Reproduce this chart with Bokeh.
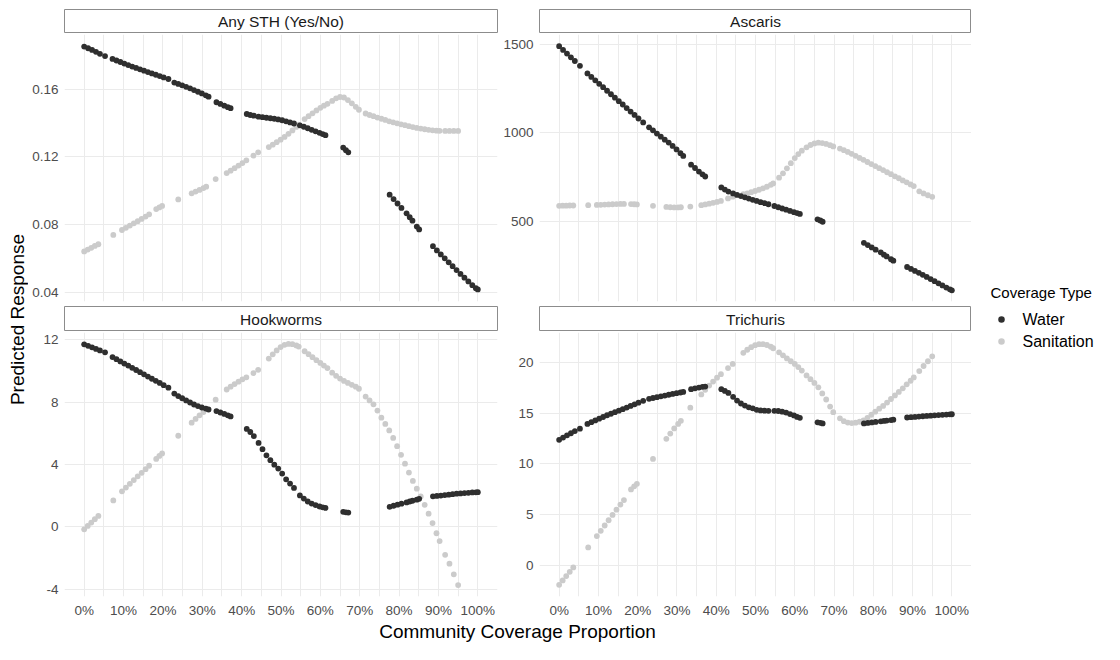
import math
from bokeh.plotting import figure
from bokeh.layouts import row, column
from bokeh.models import Range1d, FixedTicker
from bokeh.core.properties import value
from bokeh.embed import file_html
from bokeh.resources import INLINE

# ---------------- data ----------------
panel_titles = ["Any STH (Yes/No)", "Ascaris", "Hookworms", "Trichuris"]
legend_title = "Coverage Type"
series_names = ["Water", "Sanitation"]
x_title = "Community Coverage Proportion"
y_title = "Predicted Response"

x_ticks = [0, 10, 20, 30, 40, 50, 60, 70, 80, 90, 100]
x_tick_labels = ["0%", "10%", "20%", "30%", "40%", "50%", "60%", "70%", "80%", "90%", "100%"]
x_minor_ticks = [5, 15, 25, 35, 45, 55, 65, 75, 85, 95]

y_ticks_any = [0.04, 0.08, 0.12, 0.16]
y_labels_any = ["0.04", "0.08", "0.12", "0.16"]
y_ticks_ascaris = [500, 1000, 1500]
y_labels_ascaris = ["500", "1000", "1500"]
y_ticks_hook = [-4, 0, 4, 8, 12]
y_labels_hook = ["-4", "0", "4", "8", "12"]
y_ticks_trich = [0, 5, 10, 15, 20]
y_labels_trich = ["0", "5", "10", "15", "20"]

# community coverage (%) at which predictions are shown
water_x = [0, 1, 2, 3, 4, 5.3,
           7.2, 8.2, 9.2, 10.2, 11.2, 12.2, 13.2, 14.2, 15.2, 16.2, 17.2, 18.2, 19.2, 20.2, 21.4,
           22.9, 23.9, 24.9, 25.9, 26.9, 27.9, 28.9, 29.9, 30.9, 31.6,
           33.6, 34.6, 35.6, 36.5, 37.2,
           41.3, 42.2, 43.1, 44.3, 45.3, 46.3, 47.3, 48.3, 49.3, 50.3, 51.3, 52.3, 53.3,
           54.8, 55.8, 56.8, 57.8, 58.8, 59.8, 60.6, 61.3,
           65.8, 66.5, 67.1,
           77.6, 78.6, 79.6, 80.6, 81.9, 82.7, 83.4, 84.5, 85.1,
           88.6, 89.6, 90.6, 91.6, 92.6, 93.6, 94.6, 95.6, 96.6, 97.6, 98.6, 99.5, 100]

sanitation_x = [0, 0.9, 1.8, 2.7, 3.6,
                7.4,
                9.6, 10.6, 11.6, 12.6, 13.6, 14.6, 15.6, 16.5,
                18.3, 19.1, 19.8,
                23.9,
                27.3, 28.3, 29.3, 30.3, 31.0,
                33.4,
                36.2, 37.2, 38.2, 39.2, 40.2, 41.2, 43.0, 44.2,
                46.9, 47.9, 48.9, 49.9, 50.9, 51.9, 52.9, 53.9, 54.5,
                56.0, 57.0, 58.0, 59.0, 60.0, 60.9, 61.8,
                63.0, 64.0, 65.0, 66.0, 67.0, 68.0, 69.0, 69.8,
                71.5, 72.5, 73.5, 74.5, 75.5, 76.5, 77.5, 78.5, 79.5, 80.5,
                81.5, 82.5, 83.5, 84.5, 85.5, 86.5, 87.5, 88.5, 89.5, 90.3,
                91.7, 92.8, 93.9, 95.0]

water_any = [0.1850, 0.1840, 0.1830, 0.1819, 0.1807, 0.1794,
             0.1777, 0.1768, 0.1759, 0.1750, 0.1741, 0.1732, 0.1724, 0.1716, 0.1708, 0.1700, 0.1692, 0.1684, 0.1676, 0.1668, 0.1659,
             0.1638, 0.1630, 0.1622, 0.1613, 0.1604, 0.1594, 0.1584, 0.1574, 0.1563, 0.1555,
             0.1522, 0.1512, 0.1502, 0.1493, 0.1487,
             0.1453, 0.1447, 0.1443, 0.1437, 0.1434, 0.1431, 0.1428, 0.1425, 0.1421, 0.1416, 0.1410, 0.1403, 0.1397,
             0.1386, 0.1378, 0.1369, 0.1360, 0.1351, 0.1342, 0.1335, 0.1328,
             0.1255, 0.1240, 0.1227,
             0.0978, 0.0952, 0.0926, 0.0900, 0.0868, 0.0845, 0.0825, 0.0790, 0.0773,
             0.0675, 0.0650, 0.0626, 0.0603, 0.0580, 0.0557, 0.0534, 0.0511, 0.0489, 0.0467, 0.0445, 0.0427, 0.0420]

sanitation_any = [0.0644, 0.0655, 0.0665, 0.0676, 0.0686,
                  0.0741,
                  0.0770, 0.0783, 0.0796, 0.0809, 0.0822, 0.0835, 0.0849, 0.0862,
                  0.0893, 0.0903, 0.0912,
                  0.0950,
                  0.0986, 0.0996, 0.1006, 0.1017, 0.1025,
                  0.1070,
                  0.1105, 0.1119, 0.1134, 0.1149, 0.1164, 0.1180, 0.1208, 0.1227,
                  0.1258, 0.1272, 0.1287, 0.1302, 0.1318, 0.1336, 0.1356, 0.1377, 0.1390,
                  0.1423, 0.1440, 0.1457, 0.1474, 0.1489, 0.1502, 0.1513,
                  0.1530, 0.1545, 0.1553, 0.1550, 0.1535, 0.1516, 0.1495, 0.1478,
                  0.1456, 0.1447, 0.1440, 0.1432, 0.1425, 0.1418, 0.1410, 0.1404, 0.1398, 0.1392,
                  0.1387, 0.1381, 0.1376, 0.1371, 0.1367, 0.1363, 0.1360, 0.1357, 0.1355, 0.1354,
                  0.1353, 0.1353, 0.1353, 0.1353]

water_ascaris = [1489, 1468, 1447, 1426, 1405, 1378,
                 1335, 1315, 1296, 1276, 1257, 1237, 1217, 1198, 1178, 1159, 1139, 1119, 1100, 1080, 1058,
                 1030, 1013, 995, 977, 960, 944, 925, 905, 884, 868,
                 819, 800, 780, 764, 752,
                 690, 678, 667, 656, 648, 641, 634, 627, 620, 614, 607, 601, 595,
                 585, 578, 571, 564, 557, 550, 545, 540,
                 510, 503, 496,
                 377, 364, 351, 338, 323, 310, 300, 284, 276,
                 240, 229, 218, 207, 196, 184, 172, 160, 148, 136, 124, 114, 108]

sanitation_ascaris = [586, 587, 587, 588, 588,
                      590,
                      591, 592, 593, 594, 595, 596, 597, 597,
                      596, 595, 594,
                      586,
                      580, 578, 577, 577, 578,
                      582,
                      590, 594, 598, 603, 608, 614, 628, 638,
                      652, 657, 663, 670, 677, 685, 694, 705, 713,
                      745, 770, 798, 827, 856, 879, 898,
                      917, 930, 939, 943, 941, 936, 929, 922,
                      910, 901, 891, 880, 869, 857, 846, 834, 822, 811,
                      799, 788, 776, 765, 753, 742, 730, 719, 707, 698,
                      668, 656, 646, 637]

water_hook = [11.69, 11.60, 11.50, 11.40, 11.30, 11.18,
              10.88, 10.74, 10.60, 10.46, 10.33, 10.19, 10.05, 9.91, 9.77, 9.63, 9.49, 9.36, 9.22, 9.08, 8.92,
              8.54, 8.38, 8.24, 8.10, 7.97, 7.84, 7.74, 7.65, 7.58, 7.52,
              7.42, 7.33, 7.24, 7.15, 7.08,
              6.28, 6.08, 5.82, 5.38, 4.98, 4.59, 4.28, 3.99, 3.74, 3.42, 3.05, 2.78, 2.50,
              2.02, 1.82, 1.63, 1.50, 1.40, 1.31, 1.26, 1.22,
              0.97, 0.94, 0.92,
              1.29, 1.36, 1.43, 1.49, 1.57, 1.63, 1.68, 1.75, 1.80,
              1.96, 1.99, 2.01, 2.04, 2.07, 2.10, 2.13, 2.15, 2.17, 2.19, 2.21, 2.22, 2.23]

sanitation_hook = [-0.15, 0.07, 0.28, 0.50, 0.71,
                   1.70,
                   2.28, 2.52, 2.76, 3.00, 3.24, 3.47, 3.70, 3.92,
                   4.36, 4.55, 4.71,
                   5.84,
                   6.68, 6.92, 7.15, 7.36, 7.55,
                   8.15,
                   8.80, 8.98, 9.15, 9.30, 9.45, 9.58, 9.85, 10.06,
                   10.78, 11.05, 11.30, 11.52, 11.66, 11.72, 11.70, 11.62, 11.55,
                   11.25, 11.06, 10.87, 10.68, 10.50, 10.33, 10.17,
                   9.88, 9.68, 9.50, 9.35, 9.22, 9.10, 8.98, 8.85,
                   8.35, 8.10, 7.85, 7.45, 7.00, 6.60, 6.18, 5.70, 5.17, 4.62,
                   4.05, 3.48, 2.95, 2.45, 1.95, 1.42, 0.85, 0.25, -0.40, -0.90,
                   -1.78, -2.35, -3.03, -3.72]

water_trich = [12.38, 12.60, 12.82, 13.03, 13.24, 13.48,
               13.95, 14.12, 14.29, 14.46, 14.63, 14.80, 14.95, 15.10, 15.25, 15.40, 15.56, 15.72, 15.88, 16.04, 16.22,
               16.42, 16.50, 16.58, 16.66, 16.74, 16.82, 16.90, 16.97, 17.04, 17.10,
               17.37, 17.45, 17.53, 17.60, 17.62,
               17.37, 17.20, 17.00, 16.62, 16.25, 15.96, 15.75, 15.58, 15.48, 15.33, 15.27, 15.25, 15.24,
               15.24, 15.22, 15.15, 15.06, 14.92, 14.78, 14.64, 14.55,
               14.10, 14.05, 14.00,
               14.00, 14.04, 14.09, 14.14, 14.20, 14.24, 14.28, 14.33, 14.36,
               14.58, 14.61, 14.64, 14.67, 14.70, 14.73, 14.76, 14.79, 14.82, 14.84, 14.87, 14.89, 14.90]

sanitation_trich = [-1.90, -1.47, -1.04, -0.62, -0.19,
                    1.78,
                    2.90, 3.42, 3.94, 4.46, 4.98, 5.50, 6.00, 6.45,
                    7.50, 7.80, 8.05,
                    10.50,
                    12.48, 13.00, 13.50, 13.95, 14.25,
                    15.55,
                    16.85, 17.30, 17.72, 18.12, 18.50, 18.85, 19.45, 19.85,
                    20.95, 21.25, 21.50, 21.70, 21.80, 21.80, 21.72, 21.55, 21.40,
                    21.00, 20.70, 20.40, 20.12, 19.85, 19.55, 19.20,
                    18.72, 18.35, 17.98, 17.55, 16.95, 16.35, 15.65, 15.10,
                    14.50, 14.22, 14.08, 14.03, 14.07, 14.16, 14.30, 14.55, 14.85, 15.15,
                    15.45, 15.72, 16.05, 16.40, 16.75, 17.10, 17.45, 17.85, 18.20, 18.52,
                    19.15, 19.65, 20.12, 20.60]

# ---------------- styling ----------------
FONT = "Liberation Sans"
WATER_COLOR = "#2f2f2f"
SAN_COLOR = "#cbcbcb"
GRID_COLOR = "#ebebeb"
TICK_COLOR = "#4d4d4d"
STRIP_BORDER = "#8c8c8c"
DOT = 5.8

YLAB_W = 28
LEFT_W, RIGHT_W = 472, 471
LEG_W = 133
LEFT_MB = (36, 3)    # min_border_left, min_border_right
RIGHT_MB = (39, 0)

STRIP1_H, STRIP1_TOP = 33, 9
TOP_H, TOP_BOTTOM = 273, 5
STRIP2_H = 25
BOT_H, BOT_BOTTOM = 289, 24
XLAB_H = 24


def make_strip(title, width, mb, height, top):
    s = figure(width=width, height=height, x_range=Range1d(0, 1), y_range=Range1d(0, 1),
               x_axis_type=None, y_axis_type=None, toolbar_location=None,
               output_backend="svg", min_border_left=mb[0], min_border_right=mb[1],
               min_border_top=top, min_border_bottom=0)
    s.outline_line_color = STRIP_BORDER
    s.outline_line_width = 1
    s.background_fill_color = "white"
    s.border_fill_color = "white"
    s.text(x=[0.5], y=[0.5], text=[title], text_align="center", text_baseline="middle",
           text_font=value(FONT), text_font_size="15.5px", text_color="#1a1a1a")
    return s


def make_panel(width, mb, height, bottom, y_lo, y_hi, yt, yl, wy, sy, show_x):
    p = figure(width=width, height=height, x_range=Range1d(-5, 105), y_range=Range1d(y_lo, y_hi),
               toolbar_location=None, output_backend="svg",
               min_border_left=mb[0], min_border_right=mb[1],
               min_border_top=1, min_border_bottom=bottom)
    p.outline_line_color = None
    p.background_fill_color = "white"
    p.border_fill_color = "white"
    p.xaxis.ticker = FixedTicker(ticks=x_ticks, minor_ticks=x_minor_ticks)
    p.xaxis.major_label_overrides = {t: l for t, l in zip(x_ticks, x_tick_labels)}
    p.yaxis.ticker = FixedTicker(ticks=yt)
    p.yaxis.major_label_overrides = {t: l for t, l in zip(yt, yl)}
    for ax in (p.xaxis[0], p.yaxis[0]):
        ax.axis_line_color = None
        ax.major_tick_line_color = None
        ax.minor_tick_line_color = None
        ax.major_tick_out = 0
        ax.major_tick_in = 0
        ax.minor_tick_out = 0
        ax.minor_tick_in = 0
        ax.major_label_text_font = FONT
        ax.major_label_text_font_size = "13.5px"
        ax.major_label_text_color = TICK_COLOR
        ax.major_label_standoff = 6
    if not show_x:
        p.xaxis.visible = False
    p.xgrid.grid_line_color = GRID_COLOR
    p.xgrid.minor_grid_line_color = GRID_COLOR
    p.ygrid.grid_line_color = GRID_COLOR
    p.ygrid.minor_grid_line_color = None
    p.scatter(sanitation_x, sy, size=DOT, fill_color=SAN_COLOR, line_color=None)
    p.scatter(water_x, wy, size=DOT, fill_color=WATER_COLOR, line_color=None)
    return p


s1 = make_strip(panel_titles[0], LEFT_W, LEFT_MB, STRIP1_H, STRIP1_TOP)
s2 = make_strip(panel_titles[1], RIGHT_W, RIGHT_MB, STRIP1_H, STRIP1_TOP)
p1 = make_panel(LEFT_W, LEFT_MB, TOP_H, TOP_BOTTOM, 0.0349, 0.1921, y_ticks_any, y_labels_any,
                water_any, sanitation_any, False)
p2 = make_panel(RIGHT_W, RIGHT_MB, TOP_H, TOP_BOTTOM, 45, 1555, y_ticks_ascaris, y_labels_ascaris,
                water_ascaris, sanitation_ascaris, False)
s3 = make_strip(panel_titles[2], LEFT_W, LEFT_MB, STRIP2_H, 0)
s4 = make_strip(panel_titles[3], RIGHT_W, RIGHT_MB, STRIP2_H, 0)
p3 = make_panel(LEFT_W, LEFT_MB, BOT_H, BOT_BOTTOM, -4.45, 12.45, y_ticks_hook, y_labels_hook,
                water_hook, sanitation_hook, True)
p4 = make_panel(RIGHT_W, RIGHT_MB, BOT_H, BOT_BOTTOM, -3.05, 22.95, y_ticks_trich, y_labels_trich,
                water_trich, sanitation_trich, True)

COL_H = STRIP1_H + TOP_H + STRIP2_H + BOT_H


def blank(width, height):
    f = figure(width=width, height=height, x_range=Range1d(0, width), y_range=Range1d(height, 0),
               x_axis_type=None, y_axis_type=None, toolbar_location=None, output_backend="svg",
               min_border=0)
    f.outline_line_color = None
    f.grid.visible = False
    f.background_fill_color = "white"
    f.border_fill_color = "white"
    return f


ylab = blank(YLAB_W, COL_H)
ylab.text(x=[17], y=[319], text=[y_title], angle=math.pi / 2, text_align="center",
          text_baseline="middle", text_font=value(FONT), text_font_size="19px", text_color="black")

leg = blank(LEG_W, COL_H)
leg.text(x=[19], y=[292], text=[legend_title], text_align="left", text_baseline="middle",
         text_font=value(FONT), text_font_size="15px", text_color="black")
leg.scatter(x=[30, 30], y=[319, 341], size=6.5, fill_color=[WATER_COLOR, SAN_COLOR], line_color=None)
leg.text(x=[51, 51], y=[319, 341], text=series_names, text_align="left", text_baseline="middle",
         text_font=value(FONT), text_font_size="16px", text_color="black")

xlab = blank(YLAB_W + LEFT_W + RIGHT_W + LEG_W, XLAB_H)
xlab.text(x=[517], y=[11], text=[x_title], text_align="center", text_baseline="middle",
          text_font=value(FONT), text_font_size="19px", text_color="black")

grid_col = column(row(s1, s2), row(p1, p2), row(s3, s4), row(p3, p4))
layout = column(row(ylab, grid_col, leg), xlab)

open("out.html", "w").write(file_html(layout, INLINE))
